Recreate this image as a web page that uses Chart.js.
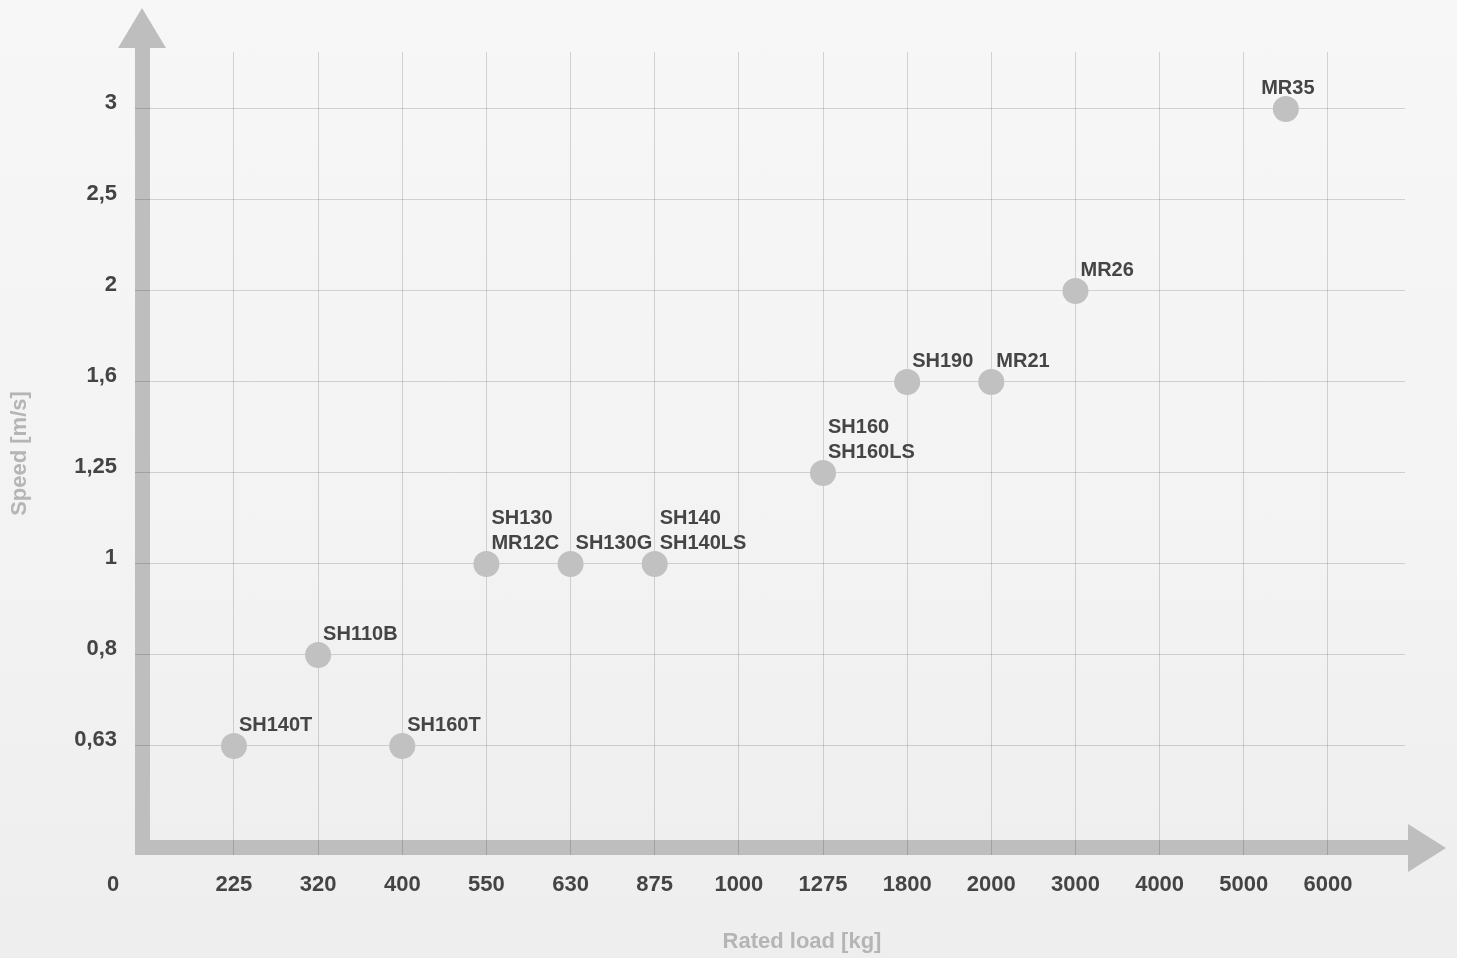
<!DOCTYPE html>
<html>
<head>
<meta charset="utf-8">
<title>Rated load vs speed</title>
<script src="https://cdn.jsdelivr.net/npm/chart.js@4.4.1/dist/chart.umd.min.js"></script>
<style>
  html, body { margin: 0; padding: 0; }
  body {
    width: 1457px;
    height: 958px;
    overflow: hidden;
    background: linear-gradient(180deg, #f7f7f7 0%, #f3f3f3 55%, #eeeeee 100%);
  }
  #wrap { position: relative; width: 1457px; height: 958px; }
</style>
</head>
<body>
<div id="wrap"><canvas id="chartLoad"></canvas></div>
<script>
// axis categories (the chart uses evenly spaced steps, not a true scale)
const loadTicks = ["225", "320", "400", "550", "630", "875", "1000", "1275", "1800", "2000", "3000", "4000", "5000", "6000"];
const speedTicks = ["0,63", "0,8", "1", "1,25", "1,6", "2", "2,5", "3"];
const originLabel = "0";

// machines
const models = ["SH140T", "SH110B", "SH160T", "SH130\nMR12C", "SH130G", "SH140\nSH140LS", "SH160\nSH160LS", "SH190", "MR21", "MR26", "MR35"];
const loads = [225, 320, 400, 550, 630, 875, 1275, 1800, 2000, 3000, 5500];
const speeds = [0.63, 0.8, 0.63, 1, 1, 1, 1.25, 1.6, 1.6, 2, 3];

const xTitle = "Rated load [kg]";
const yTitle = "Speed [m/s]";

const FONT = "'Liberation Sans', Arial, sans-serif";
const loadStops = loadTicks.map(s => parseFloat(s));
const speedStops = speedTicks.map(s => parseFloat(s.replace(",", ".")));

// value -> step position on the axis (1 = first tick)
function stepPos(v, stops) {
    for (let i = 0; i < stops.length; i++) {
        if (v === stops[i]) return i + 1;
        if (i + 1 < stops.length && v > stops[i] && v < stops[i + 1]) {
            return i + 1 + (v - stops[i]) / (stops[i + 1] - stops[i]);
        }
    }
    return null;
}

const points = models.map((m, i) => ({
    x: stepPos(loads[i], loadStops),
    y: stepPos(speeds[i], speedStops),
}));

const decor = {
    id: "decor",
    beforeDraw(chart) {
        const { ctx, chartArea: a } = chart;
        ctx.save();
        ctx.fillStyle = "#bebebe";
        // vertical arrow
        ctx.fillRect(a.left, a.top - 4, 15, a.bottom - a.top + 4);
        ctx.beginPath();
        ctx.moveTo(a.left + 7, a.top - 44);
        ctx.lineTo(a.left + 31, a.top - 4);
        ctx.lineTo(a.left - 17, a.top - 4);
        ctx.closePath();
        ctx.fill();
        // horizontal arrow
        ctx.fillRect(a.left, a.bottom - 15, a.right + 3 - a.left, 15);
        ctx.beginPath();
        ctx.moveTo(a.right + 41, a.bottom - 7);
        ctx.lineTo(a.right + 3, a.bottom - 31);
        ctx.lineTo(a.right + 3, a.bottom + 17);
        ctx.closePath();
        ctx.fill();
        ctx.restore();
    },
    afterDatasetsDraw(chart) {
        const { ctx } = chart;
        const meta = chart.getDatasetMeta(0);
        ctx.save();
        ctx.font = "bold 20px " + FONT;
        ctx.fillStyle = "#454545";
        ctx.textBaseline = "alphabetic";
        meta.data.forEach((pt, i) => {
            const lines = models[i].split("\n");
            // last one sits at the edge, so its label is centred
            const centred = i === models.length - 1;
            ctx.textAlign = centred ? "center" : "left";
            const x = pt.x + (centred ? 2 : 5);
            lines.forEach((line, j) => {
                ctx.fillText(line, x, pt.y - 15 - (lines.length - 1 - j) * 25);
            });
        });
        ctx.restore();
    },
    afterDraw(chart) {
        const { ctx, chartArea: a } = chart;
        const xs = chart.scales.x;
        ctx.save();
        ctx.textBaseline = "middle";
        ctx.textAlign = "center";
        ctx.font = "bold 22px " + FONT;
        ctx.fillStyle = "#444";
        ctx.fillText(originLabel, a.left - 22, xs.top + 17 + 13.2);
        ctx.fillStyle = "#b5b5b5";
        ctx.fillText(xTitle, 802, 942);
        ctx.restore();
    },
};

const tickFont = { family: FONT, size: 22, weight: "bold" };

const config = {
    type: "scatter",
    data: {
        datasets: [
            {
                data: points,
                pointRadius: 13,
                pointHoverRadius: 13,
                pointBackgroundColor: "#c1c1c1",
                pointBorderWidth: 0,
            },
        ],
    },
    options: {
        responsive: true,
        maintainAspectRatio: false,
        animation: false,
        layout: { padding: { top: 52, right: 52, left: 0, bottom: 0 } },
        plugins: {
            legend: { display: false },
            tooltip: { enabled: false },
        },
        scales: {
            x: {
                type: "linear",
                min: -0.176,
                max: 14.916,
                afterBuildTicks: (s) => {
                    s.ticks = loadTicks.map((_, i) => ({ value: i + 1 }));
                },
                afterFit: (s) => { s.height = 103; },
                ticks: {
                    callback: (v, i) => loadTicks[i],
                    autoSkip: false,
                    maxRotation: 0,
                    padding: 17,
                    color: "#444",
                    font: tickFont,
                },
                grid: { color: "rgba(0,0,0,0.15)", lineWidth: 1, drawTicks: false },
                border: { display: false },
            },
            y: {
                type: "linear",
                min: -0.198,
                max: 8.626,
                afterBuildTicks: (s) => {
                    s.ticks = speedTicks.map((_, i) => ({ value: i + 1 }));
                },
                afterFit: (s) => { s.width = 135; },
                ticks: {
                    callback: (v, i) => speedTicks[i],
                    autoSkip: false,
                    padding: 18,
                    labelOffset: -6,
                    color: "#444",
                    font: tickFont,
                },
                grid: { color: "rgba(0,0,0,0.15)", lineWidth: 1, drawTicks: false },
                border: { display: false },
                title: {
                    display: true,
                    text: yTitle,
                    color: "#b5b5b5",
                    font: tickFont,
                    padding: { top: 7, bottom: 0 },
                },
            },
        },
    },
    plugins: [decor],
};

const chartLoad = document.getElementById("chartLoad");
if (chartLoad) {
    new Chart(chartLoad, config);
}
</script>
</body>
</html>
